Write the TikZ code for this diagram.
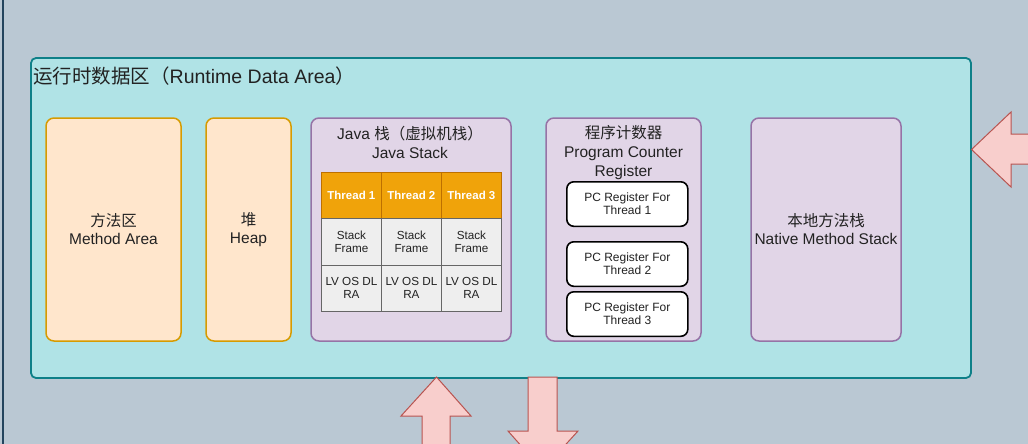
\documentclass[tikz,border=0pt]{standalone}
\usepackage{fontspec}
\setmainfont{Liberation Sans}
\newfontfamily\cjk{Noto Sans CJK SC}
\definecolor{bgfill}{HTML}{BAC8D3}
\definecolor{bgline}{HTML}{23445D}
\definecolor{cfill}{HTML}{B0E3E6}
\definecolor{cline}{HTML}{0E8088}
\definecolor{orfill}{HTML}{FFE6CC}
\definecolor{orline}{HTML}{D79B00}
\definecolor{pufill}{HTML}{E1D5E7}
\definecolor{puline}{HTML}{9673A6}
\definecolor{thfill}{HTML}{F0A30A}
\definecolor{thline}{HTML}{BD7000}
\definecolor{cellfill}{HTML}{EEEEEE}
\definecolor{cellline}{HTML}{666666}
\definecolor{arfill}{HTML}{F8CECC}
\definecolor{arline}{HTML}{B85450}
\definecolor{txt}{HTML}{222222}
\begin{document}
\begin{tikzpicture}[x=1pt,y=-1pt,
  box/.style={draw, rounded corners=8pt, line width=1.5pt, inner sep=0pt, outer sep=0pt,
    align=center, anchor=north west, text=txt, font=\fontsize{15.5}{18}\selectfont},
  orangebox/.style={box, fill=orfill, draw=orline},
  purplebox/.style={box, fill=pufill, draw=puline},
  titletext/.style={inner sep=0pt, align=center, text=txt, font=\fontsize{15.5}{19}\selectfont},
  headcell/.style={draw=thline, fill=thfill, line width=0.8pt, inner sep=0pt, anchor=north west,
    minimum width=60pt, minimum height=47pt, text=white, font=\fontsize{11.5}{13.5}\selectfont\bfseries},
  cell/.style={draw=cellline, fill=cellfill, line width=0.8pt, inner sep=0pt, anchor=north west,
    align=center, minimum width=60pt, minimum height=46.5pt, text=txt, font=\fontsize{11.7}{13.5}\selectfont},
  pcbox/.style={draw=black, fill=white, line width=1.6pt, rounded corners=7pt, inner sep=0pt,
    anchor=north west, align=center, minimum width=121pt, minimum height=44.5pt, text=txt,
    font=\fontsize{12}{13}\selectfont},
  blockarrow/.style={fill=arfill, draw=arline, line width=1pt, line join=miter}
]
\useasboundingbox (0,0) rectangle (1028,444);
\begin{scope}
\clip (0,0) rectangle (1028,444);
\fill[bgfill] (0,0) rectangle (1028,444);
\draw[bgline, line width=2pt] (3,-5) -- (3,450);

% container
\node[draw=cline, fill=cfill, line width=1.8pt, rounded corners=5pt, inner sep=0pt, outer sep=0pt,
  anchor=north west, minimum width=940pt, minimum height=320pt] (rda) at (31,58) {};
\node[inner sep=0pt, anchor=west, text=txt, font=\fontsize{19.5}{22}\selectfont] (rdatitle) at (33,76)
  {{\cjk 运行时数据区（}Runtime Data Area{\cjk ）}};

% method area & heap
\node[orangebox, minimum width=135pt, minimum height=223pt] (method) at (46,118)
  {{\cjk 方法区}\\Method Area};
\node[orangebox, minimum width=85pt, minimum height=223pt] (heap) at (206,118)
  {{\cjk 堆}\\Heap};

% java stack
\node[purplebox, minimum width=200pt, minimum height=223pt] (jstack) at (311,118) {};
\node[titletext] (jstitle) at (410,142.5) {Java {\cjk 栈（虚拟机栈）}\\Java Stack};

\foreach \i/\x in {1/321,2/381,3/441}{
  \node[headcell] (th\i) at (\x,171.5) {Thread \i};
  \node[cell] (sf\i) at (\x,218) {Stack\\Frame};
  \node[cell] (lv\i) at (\x,264.5) {LV OS DL\\RA};
}

% program counter
\node[purplebox, minimum width=155pt, minimum height=223pt] (pc) at (546,118) {};
\node[titletext] (pctitle) at (623.5,152.3) {{\cjk 程序计数器}\\Program Counter\\Register};
\node[pcbox] (pc1) at (566,181) {PC Register For\\Thread 1};
\node[pcbox] (pc2) at (566,241) {PC Register For\\Thread 2};
\node[pcbox] (pc3) at (566,291) {PC Register For\\Thread 3};

% native method stack
\node[purplebox, minimum width=150pt, minimum height=223pt] (native) at (751,118)
  {{\cjk 本地方法栈}\\Native Method Stack};

% block arrows
\draw[blockarrow] (1035,134) -- (1011,134) -- (1011,112) -- (971.5,149.5) -- (1011,187)
  -- (1011,164) -- (1035,164);
\draw[blockarrow] (422,450) -- (422,416) -- (401,416) -- (436.5,377) -- (471,416)
  -- (450,416) -- (450,450);
\draw[blockarrow] (528,377) -- (528,431) -- (508,431) -- (542.5,470) -- (578,431)
  -- (557,431) -- (557,377) -- cycle;
\end{scope}
\end{tikzpicture}
\end{document}
